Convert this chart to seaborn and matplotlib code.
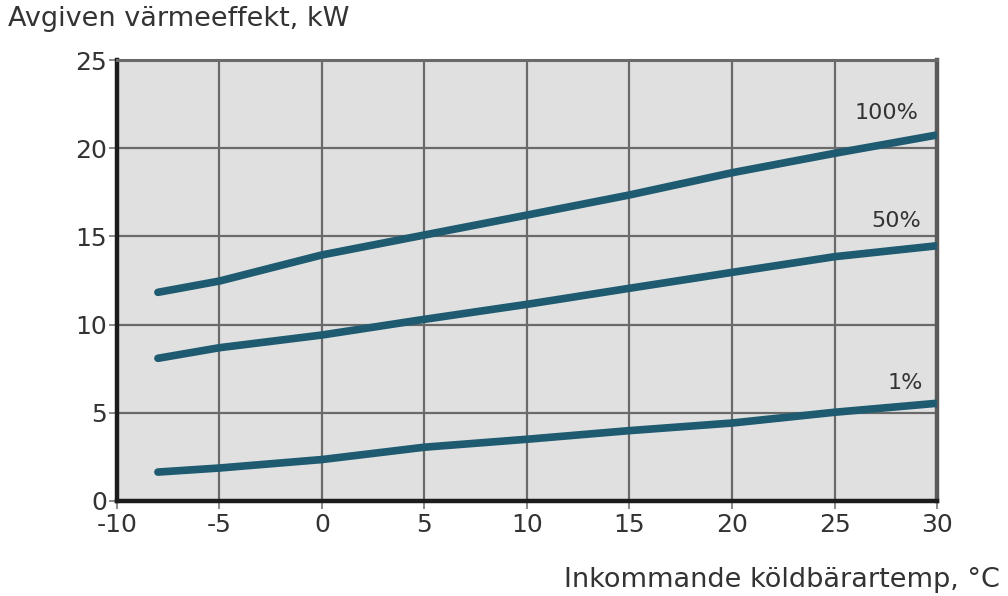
import matplotlib
matplotlib.use("Agg")
import matplotlib.pyplot as plt
from matplotlib.ticker import FuncFormatter
import seaborn as sns
import pandas as pd

# Incoming brine temperature, °C
temps = [-8, -5, 0, 5, 10, 15, 20, 25, 30]
# Delivered heat output, kW, per compressor load
load_100 = [11.83, 12.47, 13.95, 15.08, 16.21, 17.35, 18.61, 19.71, 20.75]
load_50 = [8.09, 8.69, 9.41, 10.30, 11.15, 12.06, 12.96, 13.85, 14.47]
load_1 = [1.64, 1.87, 2.35, 3.05, 3.50, 3.99, 4.42, 5.03, 5.54]
series_labels = ["100%", "50%", "1%"]

x_ticks = [-10, -5, 0, 5, 10, 15, 20, 25, 30]
y_ticks = [0, 5, 10, 15, 20, 25]

sns.set_theme(style="ticks")
plt.rcParams["font.family"] = ["DejaVu Sans"]

df = pd.DataFrame({
    "temp": temps * 3,
    "power": load_100 + load_50 + load_1,
    "load": [series_labels[0]] * len(temps) + [series_labels[1]] * len(temps) + [series_labels[2]] * len(temps),
})

fig = plt.figure(figsize=(10.08, 5.96), dpi=100)
ax = fig.add_axes([0.116, 0.1594, 0.8136, 0.7399])
ax.set_facecolor("#e0e0e0")

line_color = "#1e5a70"
sns.lineplot(data=df, x="temp", y="power", hue="load",
             palette={l: line_color for l in series_labels},
             linewidth=5.5, legend=False, ax=ax, zorder=3)
for line in ax.get_lines():
    line.set_solid_capstyle("round")
    line.set_solid_joinstyle("round")

ax.set_xlim(-10, 30)
ax.set_ylim(0, 25)
ax.set_xticks(x_ticks)
ax.set_yticks(y_ticks)
# plain hyphen for negative numbers
ax.xaxis.set_major_formatter(FuncFormatter(lambda v, _: f"{int(v)}"))
ax.yaxis.set_major_formatter(FuncFormatter(lambda v, _: f"{int(v)}"))
ax.grid(True, color="#6a6a6a", linewidth=1.6, zorder=1)
ax.set_axisbelow(True)

text_color = "#333333"
ax.tick_params(axis="both", length=6, width=1.2, color="#777777",
               labelsize=18, labelcolor=text_color)
ax.tick_params(axis="x", pad=3)
ax.tick_params(axis="y", pad=1)

for side in ["left", "bottom"]:
    ax.spines[side].set_color("#1c1c1c")
    ax.spines[side].set_linewidth(3.2)
ax.spines["top"].set_color("#6a6a6a")
ax.spines["top"].set_linewidth(2.2)
ax.spines["right"].set_color("#5a5a5a")
ax.spines["right"].set_linewidth(3.2)

ax.set_xlabel("")
ax.set_ylabel("")

# Curve labels near the right end
label_pos = {"100%": (29.1, 22.0), "50%": (29.2, 15.85), "1%": (29.3, 6.7)}
for lbl, (lx, ly) in label_pos.items():
    ax.text(lx, ly, lbl, ha="right", va="center", fontsize=16, color=text_color)

fig.text(8 / 1008, 1 - 19 / 596, "Avgiven värmeeffekt, kW", ha="left", va="center",
         fontsize=19.5, color=text_color)
fig.text(1000 / 1008, 1 - 580 / 596, "Inkommande köldbärartemp, °C", ha="right", va="center",
         fontsize=19.5, color=text_color)

fig.savefig("out.png", dpi=100)
